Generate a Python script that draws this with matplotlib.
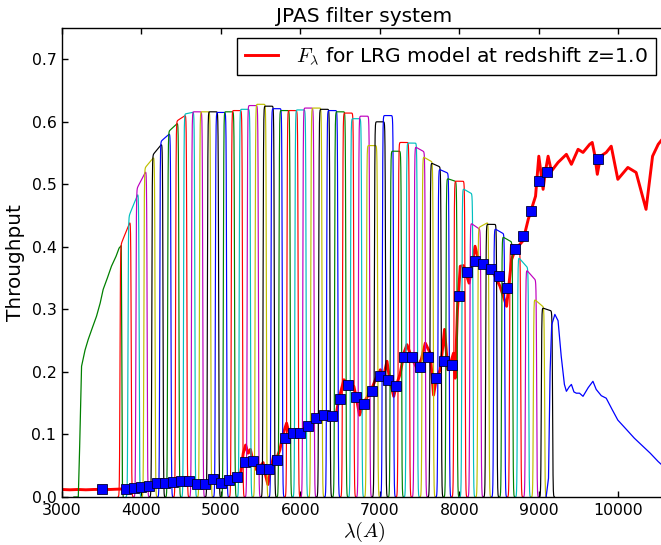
import numpy as np
import matplotlib
matplotlib.use('Agg')
import matplotlib.pyplot as plt

plt.rcParams['mathtext.fontset'] = 'cm'
plt.rcParams['font.family'] = 'DejaVu Sans'

# broad u-like filter (green, left)
u_wave = [3150, 3205, 3222, 3246, 3290, 3330, 3380, 3434, 3480, 3518, 3570, 3622, 3680, 3718, 3745, 3752, 3760, 3770]
u_thr = [0.0, 0.0, 0.08, 0.209, 0.235, 0.252, 0.27, 0.289, 0.31, 0.332, 0.35, 0.369, 0.385, 0.398, 0.402, 0.25, 0.02, 0.0]

# narrow band filters: centres, mid-plateau throughput and change across the plateau
nb_centers = [3800, 3900, 4000, 4100, 4200, 4300, 4400, 4500, 4600, 4700,
              4800, 4900, 5000, 5100, 5200, 5300, 5400, 5500, 5600, 5700,
              5800, 5900, 6000, 6100, 6200, 6300, 6400, 6500, 6600, 6700,
              6800, 6900, 7000, 7100, 7200, 7300, 7400, 7500, 7600, 7700,
              7800, 7900, 8000, 8100, 8200, 8300, 8400, 8500, 8600, 8700,
              8800, 8900, 9000, 9100]
nb_peaks = [0.4225, 0.4675, 0.5075, 0.535, 0.556, 0.575, 0.5915, 0.606, 0.614, 0.616,
            0.616, 0.616, 0.615, 0.616, 0.618, 0.62, 0.626, 0.628, 0.625, 0.621,
            0.618, 0.618, 0.619, 0.622, 0.622, 0.62, 0.618, 0.616, 0.614, 0.605,
            0.609, 0.562, 0.60, 0.61, 0.553, 0.567, 0.566, 0.556, 0.54, 0.531,
            0.521, 0.507, 0.505, 0.489, 0.433, 0.435, 0.436, 0.425, 0.412, 0.401,
            0.375, 0.355, 0.31, 0.30]
nb_rise = [0.045, 0.045, 0.035, 0.022, 0.022, 0.016, 0.017, 0.012, 0.004, 0.0,
           0.0, 0.0, 0.0, 0.0, 0.0, 0.0, 0.0, 0.0, 0.0, 0.0,
           0.0, 0.0, 0.0, 0.0, 0.0, 0.0, 0.0, 0.0, 0.0, 0.0,
           0.0, 0.0, 0.0, 0.0, 0.0, 0.0, 0.0, -0.01, -0.01, -0.008,
           -0.008, -0.006, 0.0, -0.01, -0.012, 0.01, 0.0, -0.01, -0.01, -0.01,
           -0.02, -0.02, -0.015, -0.006]

# broad red filter (blue, right)
br_wave = [9090, 9120, 9140, 9160, 9200, 9240, 9280, 9320, 9345, 9380, 9408, 9440, 9470, 9510, 9554,
           9620, 9679, 9720, 9784, 9846, 9920, 9992, 10100, 10200, 10300, 10400, 10500, 10600]
br_thr = [0.0, 0.03, 0.2, 0.275, 0.292, 0.282, 0.225, 0.18, 0.169, 0.176, 0.18, 0.168, 0.166, 0.166, 0.161,
          0.175, 0.185, 0.172, 0.162, 0.158, 0.14, 0.123, 0.108, 0.094, 0.082, 0.07, 0.0566, 0.045]

# LRG model spectrum at z=1
spec_wave = [3000, 3100, 3200, 3300, 3400, 3500, 3600, 3700, 3800, 3900, 4000, 4100, 4150, 4200,
             4300, 4400, 4500, 4600, 4700, 4800, 4850, 4900, 4950, 5000, 5100, 5200, 5250, 5280,
             5310, 5340, 5370, 5400, 5440, 5470, 5500, 5530, 5560, 5590, 5620, 5660, 5700, 5740,
             5780, 5825, 5860, 5900, 6000, 6050, 6100, 6150, 6200, 6250, 6300, 6350, 6400, 6440,
             6480, 6546, 6600, 6671, 6700, 6743, 6780, 6817, 6900, 6950, 7005, 7040, 7088, 7122,
             7173, 7210, 7256, 7300, 7340, 7400, 7465, 7520, 7570, 7632, 7674, 7710, 7757, 7790,
             7812, 7853, 7890, 7925, 7946, 7975, 8010, 8050, 8121, 8196, 8258, 8300, 8363, 8420,
             8510, 8593, 8656, 8700, 8760, 8800, 8865, 8957, 8998, 9052, 9080, 9115, 9156, 9240,
             9345, 9408, 9492, 9554, 9638, 9670, 9700, 9734, 9775, 9846, 9909, 9992, 10118, 10222,
             10347, 10429, 10500, 10600]
spec_flux = [0.012, 0.0115, 0.012, 0.0115, 0.012, 0.0122, 0.012, 0.0125, 0.013, 0.0145, 0.0155, 0.018, 0.02, 0.022,
             0.023, 0.025, 0.026, 0.025, 0.021, 0.02, 0.026, 0.029, 0.022, 0.022, 0.027, 0.033, 0.04, 0.07,
             0.083, 0.07, 0.076, 0.058, 0.045, 0.04, 0.05, 0.055, 0.035, 0.02, 0.04, 0.065, 0.062, 0.075,
             0.1, 0.118, 0.1, 0.103, 0.103, 0.11, 0.114, 0.12, 0.127, 0.132, 0.131, 0.133, 0.13, 0.125,
             0.155, 0.1875, 0.18, 0.177, 0.16, 0.131, 0.145, 0.155, 0.174, 0.19, 0.2035, 0.19, 0.217, 0.1875,
             0.161, 0.18, 0.198, 0.23, 0.2435, 0.222, 0.206, 0.22, 0.246, 0.23, 0.163, 0.19, 0.2035, 0.24,
             0.268, 0.2035, 0.215, 0.23, 0.19, 0.30, 0.369, 0.37, 0.342, 0.401, 0.369, 0.37, 0.364, 0.36,
             0.337, 0.305, 0.38, 0.395, 0.404, 0.41, 0.444, 0.481, 0.545, 0.492, 0.52, 0.545, 0.521, 0.535,
             0.548, 0.532, 0.556, 0.551, 0.564, 0.567, 0.548, 0.516, 0.545, 0.551, 0.561, 0.508, 0.527, 0.519,
             0.46, 0.545, 0.564, 0.58]

# synthetic photometry in each filter
phot_wave = [3500] + nb_centers + [9740]
phot_flux = [0.0123,
             0.0128, 0.0144, 0.0155, 0.0176, 0.0219, 0.023, 0.0245, 0.025, 0.025, 0.021,
             0.0203, 0.028, 0.023, 0.027, 0.0326, 0.0566, 0.058, 0.045, 0.044, 0.059,
             0.094, 0.1026, 0.1026, 0.114, 0.1266, 0.131, 0.13, 0.1565, 0.1795, 0.16,
             0.149, 0.17, 0.1934, 0.1875, 0.178, 0.224, 0.2233, 0.2083, 0.224, 0.191,
             0.218, 0.2115, 0.321, 0.360, 0.377, 0.373, 0.365, 0.354, 0.3345, 0.397,
             0.417, 0.457, 0.505, 0.519,
             0.540]

nb_colors = ['r', 'c', 'm', 'y', 'k', 'b', 'g']

fig = plt.figure(figsize=(6.61, 5.45), dpi=100)
ax = fig.add_axes([0.0938, 0.0881, 0.914, 0.8605])

ax.plot(spec_wave, spec_flux, 'r-', lw=2.1, label=r'$F_\lambda$ for LRG model at redshift z=1.0')

ax.plot(u_wave, u_thr, color='g', lw=0.9)

lam = np.arange(3000, 10600, 1.0)
half, soft = 71.0, 6.0
for i, (c, p, d) in enumerate(zip(nb_centers, nb_peaks, nb_rise)):
    top = p + d * np.clip((lam - c) / (2 * half), -0.5, 0.5)
    t = top * 0.5 * (np.tanh((lam - (c - half)) / soft) - np.tanh((lam - (c + half)) / soft))
    m = t > 1e-4
    ax.plot(lam[m], t[m], color=nb_colors[i % 7], lw=0.85)

ax.plot(br_wave, br_thr, color='b', lw=0.9)

ax.plot(phot_wave, phot_flux, 's', color='b', mec='#000033', mew=0.6, ms=6.5, ls='none')

ax.set_xlim(3000, 10600)
ax.set_ylim(0, 0.75)
ax.set_xticks([3000, 4000, 5000, 6000, 7000, 8000, 9000, 10000])
ax.set_yticks([0.0, 0.1, 0.2, 0.3, 0.4, 0.5, 0.6, 0.7])
ax.set_yticklabels(['0.0', '0.1', '0.2', '0.3', '0.4', '0.5', '0.6', '0.7'])
ax.tick_params(direction='in', top=True, right=False, length=4, width=1, labelsize=11.3, pad=4)
for s in ax.spines.values():
    s.set_linewidth(1.0)

ax.set_xlabel(r'$\lambda (A)$', fontsize=14.5, labelpad=2)
ax.set_ylabel('Throughput', fontsize=14.4, labelpad=5)
ax.set_title('JPAS filter system', fontsize=14.5, pad=4)

leg = ax.legend(loc='upper right', fontsize=14.6, handlelength=1.6, handletextpad=0.9,
                fancybox=False, framealpha=1, edgecolor='k', borderpad=0.4)
leg.get_frame().set_linewidth(1.0)

fig.savefig('out.png', dpi=100)
